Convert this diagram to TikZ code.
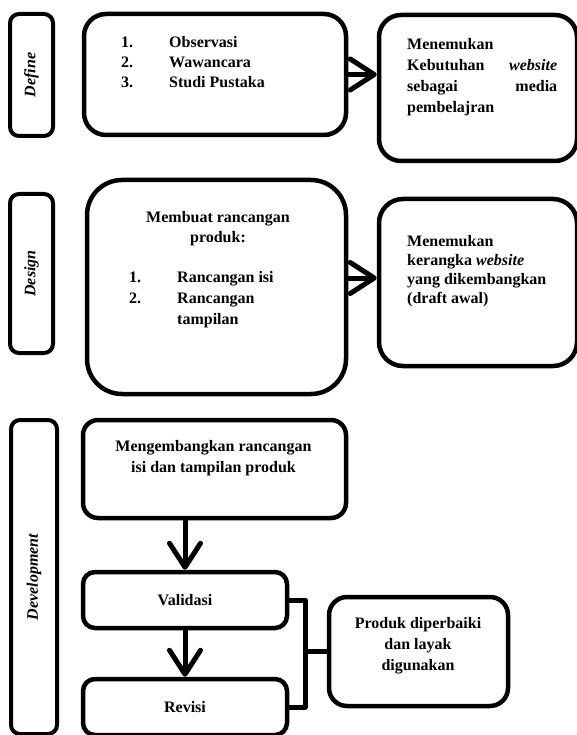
\documentclass[tikz,border=0pt]{standalone}
\usepackage{fontspec}
\setmainfont{Liberation Serif}
\usetikzlibrary{arrows.meta}

\tikzset{
  kotak/.style={draw, line width=4.5pt, rounded corners=#1, inner sep=0pt,
    font=\bfseries\fontsize{16}{20}\selectfont},
  kotak/.default=20pt,
  tahap/.style={draw, line width=4pt, rounded corners=9pt, rotate=90, inner sep=0pt,
    font=\bfseries\itshape\fontsize{16}{20}\selectfont},
  teks/.style={inner sep=0pt, align=left, font=\bfseries\fontsize{16}{20}\selectfont},
  panah/.style={line width=5pt, -{Straight Barb[length=24pt,width=31pt,round]}},
  garis/.style={line width=5pt, line join=round}
}

\begin{document}
\begin{tikzpicture}[x=1pt, y=-1pt]
  \useasboundingbox (0,0) rectangle (577,735);
  \clip (0,0) rectangle (577,735);

  % Kotak tahapan di kiri (teks diputar)
  \foreach \nama/\tulisan/\px/\py/\panjang/\lebar in {
    def/Define/31.5/75/122/43,
    des/Design/31.5/273.5/159/43,
    dev/Development/34/577/314/46
  }{
    \node[tahap, minimum width=\panjang, minimum height=\lebar] (\nama) at (\px,\py) {\tulisan};
  }

  % Define
  \node[kotak=22pt, minimum width=262, minimum height=121] (obs) at (215,74.5) {};
  \node[teks, anchor=north west] (obsteks) at (121,36.5)
    {\makebox[48pt][l]{1.}Observasi\\ \makebox[48pt][l]{2.}Wawancara\\ \makebox[48pt][l]{3.}Studi Pustaka};
  \node[kotak=22pt, minimum width=198, minimum height=146] (butuh) at (478,88) {};
  \node[teks, text width=150pt, anchor=north west, font=\bfseries\fontsize{16}{21}\selectfont] (butuhteks) at (407,38.5)
    {Menemukan\\ Kebutuhan\hfill\textit{website}\\ sebagai\hfill media\\ pembelajran};

  % Design
  \node[kotak=35pt, minimum width=259, minimum height=214] (rancang) at (216.5,287) {};
  \node[teks, align=center, anchor=north] (rancangjudul) at (218,211.5) {Membuat rancangan\\ produk:};
  \node[teks, anchor=north west, font=\bfseries\fontsize{16}{21}\selectfont] (rancangdaftar) at (129,271.5)
    {\makebox[48pt][l]{1.}Rancangan isi\\ \makebox[48pt][l]{2.}Rancangan\\ \hspace*{48pt}tampilan};
  \node[kotak=24pt, minimum width=198, minimum height=167] (kerangka) at (478,282.5) {};
  \node[teks, anchor=north west, font=\bfseries\fontsize{16}{19}\selectfont] (kerangkateks) at (407,235.5)
    {Menemukan\\ kerangka \textit{website}\\ yang dikembangkan\\ (draft awal)};

  % Development
  \node[kotak=15pt, minimum width=263, minimum height=98] (kembang) at (214.5,469) {};
  \node[teks, align=center, anchor=north, font=\bfseries\fontsize{16}{21}\selectfont] (kembangteks) at (213.5,440.5)
    {Mengembangkan rancangan\\ isi dan tampilan produk};
  \node[kotak=12pt, minimum width=204, minimum height=56] (valid) at (185,600) {Validasi};
  \node[kotak=12pt, minimum width=204, minimum height=56] (revisi) at (185,707) {Revisi};
  \node[kotak=18pt, minimum width=179, minimum height=109] (layak) at (418.5,651.5) {};
  \node[teks, align=center, font=\bfseries\fontsize{16}{21}\selectfont] (layakteks) at (418,646)
    {Produk diperbaiki\\ dan layak\\ digunakan};

  % Panah
  \draw[panah] (obs.east) -- (obs.east -| butuh.west);
  \draw[panah] ([yshift=9pt]rancang.east) -- ([yshift=9pt]rancang.east -| kerangka.west);
  \draw[panah] (kembang.south -| valid.north) -- (valid.north);
  \draw[panah] (valid) -- (revisi);

  % Kurung validasi - revisi
  \draw[garis] (valid.east) -- ++(16,0) coordinate (siku) -- (siku |- revisi.east) -- (revisi.east);
  \draw[garis] (layak.west) -- (layak.west -| siku);
\end{tikzpicture}
\end{document}
